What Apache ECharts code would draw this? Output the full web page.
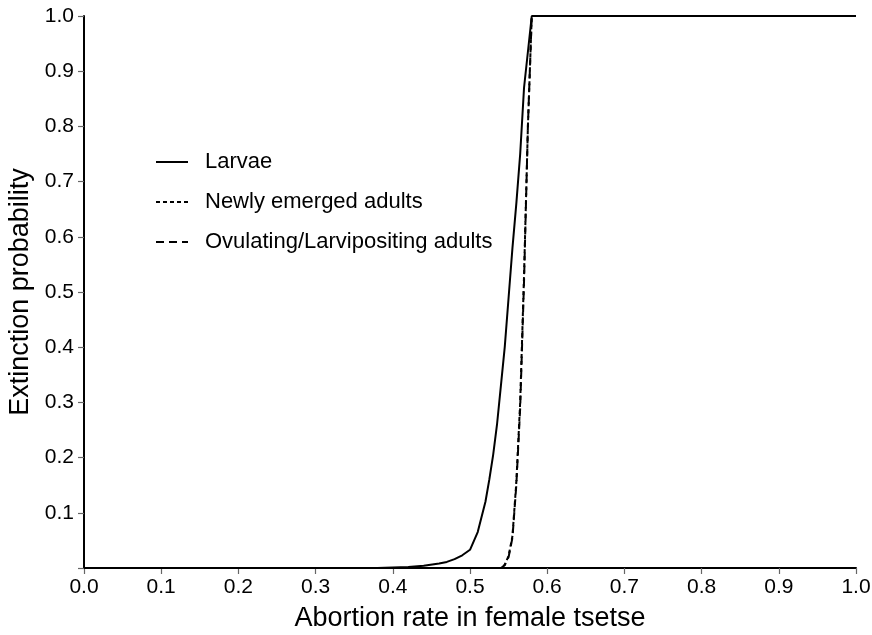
<!DOCTYPE html>
<html>
<head>
<meta charset="utf-8">
<script src="https://cdn.jsdelivr.net/npm/echarts@6/dist/echarts.min.js"></script>
<style>
  html, body { margin: 0; padding: 0; background: #fff; }
  #chart { width: 872px; height: 635px; }
</style>
</head>
<body>
<div id="chart"></div>
<script>
// Extinction probability versus abortion rate, for three life stages
const seriesNames = ['Larvae', 'Newly emerged adults', 'Ovulating/Larvipositing adults'];

const larvaeX = [0.0, 0.38, 0.40, 0.42, 0.44, 0.46, 0.47, 0.48, 0.49, 0.50, 0.51, 0.52, 0.525, 0.53, 0.535, 0.54, 0.545, 0.55, 0.555, 0.56, 0.565, 0.57, 0.58, 1.0];
const larvaeP = [0.0, 0.0, 0.001, 0.002, 0.004, 0.008, 0.011, 0.016, 0.023, 0.033, 0.065, 0.12, 0.16, 0.205, 0.26, 0.33, 0.40, 0.49, 0.58, 0.66, 0.75, 0.87, 1.0, 1.0];

const newlyX = [0.0, 0.54, 0.545, 0.55, 0.555, 0.56, 0.565, 0.57, 0.575, 0.58, 1.0];
const newlyP = [0.0, 0.0, 0.006, 0.022, 0.058, 0.155, 0.30, 0.53, 0.80, 1.0, 1.0];

const ovulX = [0.0, 0.54, 0.545, 0.55, 0.555, 0.56, 0.565, 0.57, 0.575, 0.58, 1.0];
const ovulP = [0.0, 0.0, 0.005, 0.02, 0.055, 0.15, 0.29, 0.52, 0.80, 1.0, 1.0];

const xTicks = [0.0, 0.1, 0.2, 0.3, 0.4, 0.5, 0.6, 0.7, 0.8, 0.9, 1.0];

function pairs(xs, ys) {
  return xs.map((x, i) => [x, ys[i]]);
}

const font = '"Liberation Sans", Arial, Helvetica, sans-serif';

const chart = echarts.init(document.getElementById('chart'), null, { renderer: 'canvas' });

chart.setOption({
  animation: false,
  backgroundColor: '#ffffff',
  grid: { left: 84, right: 16, top: 16, bottom: 67, containLabel: false, outerBoundsMode: 'none' },
  legend: {
    data: seriesNames,
    orient: 'vertical',
    left: 150,
    top: 146,
    itemWidth: 32,
    itemHeight: 14,
    itemGap: 18,
    itemStyle: { opacity: 0 },
    textStyle: { fontFamily: font, fontSize: 22, color: '#000', padding: [0, 0, 0, 12] },
    inactiveColor: '#000'
  },
  xAxis: {
    type: 'value',
    min: 0,
    max: 1,
    interval: 0.1,
    name: 'Abortion rate in female tsetse',
    nameLocation: 'middle',
    nameGap: 37,
    nameTextStyle: { fontFamily: font, fontSize: 27, color: '#000' },
    axisLine: { show: true, onZero: false, lineStyle: { color: '#000', width: 2 } },
    axisTick: { show: true, length: 6, lineStyle: { color: '#666', width: 1.2 } },
    axisLabel: {
      fontFamily: font, fontSize: 21, color: '#000', margin: 9,
      formatter: v => xTicks.includes(Math.round(v * 10) / 10) ? v.toFixed(1) : ''
    },
    splitLine: { show: false }
  },
  yAxis: {
    type: 'value',
    min: 0,
    max: 1,
    interval: 0.1,
    name: 'Extinction probability',
    nameLocation: 'middle',
    nameGap: 50,
    nameTextStyle: { fontFamily: font, fontSize: 27, color: '#000' },
    axisLine: { show: true, lineStyle: { color: '#000', width: 2 } },
    axisTick: { show: true, length: 6, lineStyle: { color: '#666', width: 1.2 } },
    axisLabel: {
      fontFamily: font, fontSize: 21, color: '#000', margin: 10,
      formatter: v => v === 0 ? '' : v.toFixed(1)
    },
    splitLine: { show: false }
  },
  series: [
    {
      name: 'Newly emerged adults',
      type: 'line',
      data: pairs(newlyX, newlyP),
      showSymbol: false,
      symbol: 'none',
      z: 2,
      itemStyle: { color: '#000' },
      lineStyle: { color: '#000', width: 2, type: [4, 3] }
    },
    {
      name: 'Ovulating/Larvipositing adults',
      type: 'line',
      data: pairs(ovulX, ovulP),
      showSymbol: false,
      symbol: 'none',
      z: 3,
      itemStyle: { color: '#000' },
      lineStyle: { color: '#000', width: 2, type: [8, 5] }
    },
    {
      name: 'Larvae',
      type: 'line',
      data: pairs(larvaeX, larvaeP),
      showSymbol: false,
      symbol: 'none',
      z: 4,
      itemStyle: { color: '#000' },
      lineStyle: { color: '#000', width: 2, type: 'solid' }
    }
  ]
});
</script>
</body>
</html>
